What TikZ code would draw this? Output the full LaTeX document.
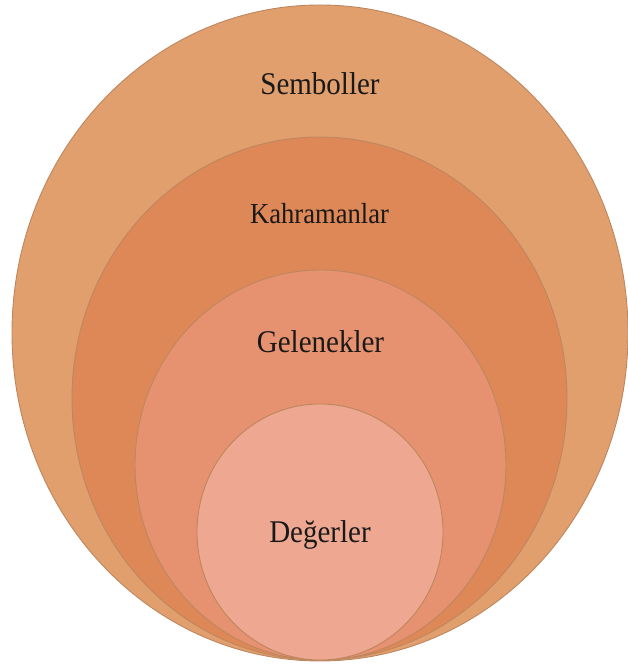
\documentclass[tikz,border=0pt]{standalone}
\usepackage{fontspec}
\setmainfont{Liberation Serif}
\usetikzlibrary{shapes.geometric,positioning}

\definecolor{sembfill}{HTML}{E29F6E}
\definecolor{kahrfill}{HTML}{DF8857}
\definecolor{gelfill}{HTML}{E6916F}
\definecolor{degfill}{HTML}{EEA790}
\definecolor{ringedge}{HTML}{BC875F}

\tikzset{
    ring/.style={ellipse, draw=ringedge, line width=0.9pt, inner sep=0pt, outer sep=0pt},
    ringlabel/.style={anchor=base, text=black!90, font=\fontsize{29}{34}\selectfont}
}

\begin{document}
\begin{tikzpicture}[x=1pt,y=1pt]
    \useasboundingbox (0,0) rectangle (627,668);

    %-----Rings-----
    % Semboller ring
    \node [ring, fill=sembfill, minimum width=616pt, minimum height=656pt] (semb) at (320,335) {};
    % Kahramanlar ring
    \node [ring, fill=kahrfill, minimum width=495pt, minimum height=523pt] (kahr) at (319.5,269.5) {};
    % Gelenekler ring
    \node [ring, fill=gelfill, minimum width=371pt, minimum height=390pt] (gel) at (320.5,203) {};
    % Degerler ring
    \node [ring, fill=degfill, minimum width=246pt, minimum height=256pt] (deg) at (320,136) {};

    %-----Labels-----
    \node [ringlabel] (sembtxt) at ([yshift=-90pt]semb.north) {\scalebox{1}[1.09]{Semboller}};
    \node [ringlabel, font=\fontsize{26.6}{32}\selectfont] (kahrtxt) at ([yshift=-87pt]kahr.north) {\scalebox{1}[1.09]{Kahramanlar}};
    \node [ringlabel] (geltxt) at ([yshift=-83pt]gel.north) {\scalebox{1}[1.09]{Gelenekler}};
    \node [ringlabel] (degtxt) at ([yshift=-139pt]deg.north) {\scalebox{1}[1.09]{Değerler}};

\end{tikzpicture}
\end{document}
